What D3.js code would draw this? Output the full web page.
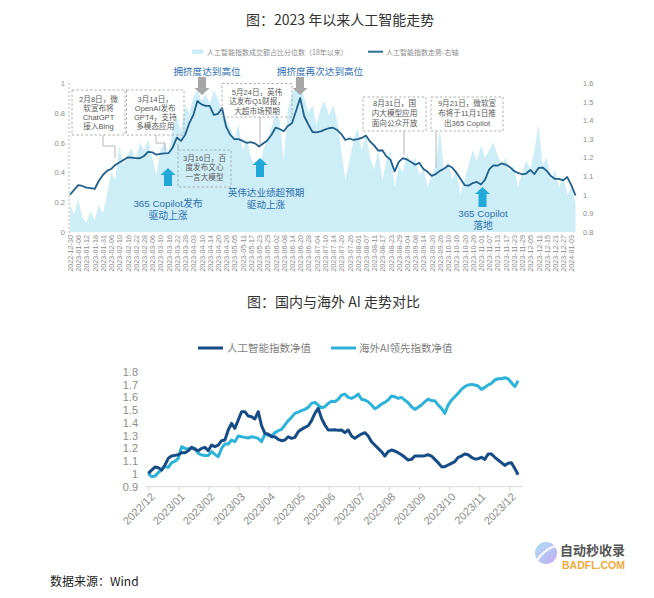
<!DOCTYPE html>
<html><head><meta charset="utf-8">
<script src="https://cdn.jsdelivr.net/npm/d3@7"></script>
<style>
body{margin:0;background:#fff;}
svg{display:block;font-family:"Noto Sans CJK SC","Noto Sans",sans-serif;}
</style></head><body>
<svg id="c" width="654" height="598"></svg>
<script>
// ---------- DATA ----------
const topDates = ["2022-12-30","2023-01-06","2023-01-12","2023-01-18","2023-01-31","2023-02-06","2023-02-10","2023-02-16","2023-02-22","2023-02-28","2023-03-06","2023-03-10","2023-03-16","2023-03-22","2023-03-28","2023-04-03","2023-04-10","2023-04-14","2023-04-20","2023-04-26","2023-05-05","2023-05-11","2023-05-17","2023-05-23","2023-05-29","2023-06-02","2023-06-08","2023-06-14","2023-06-20","2023-06-28","2023-07-04","2023-07-10","2023-07-14","2023-07-20","2023-07-26","2023-08-01","2023-08-07","2023-08-11","2023-08-17","2023-08-23","2023-08-29","2023-09-04","2023-09-08","2023-09-14","2023-09-20","2023-09-26","2023-10-10","2023-10-16","2023-10-20","2023-10-26","2023-11-01","2023-11-07","2023-11-13","2023-11-17","2023-11-23","2023-11-29","2023-12-05","2023-12-11","2023-12-15","2023-12-21","2023-12-27","2024-01-03"];
// one value every 2 trading days
const turnoverPct = [0.18,0.12,0.22,0.10,0.06,0.14,0.08,0.18,0.12,0.25,
 0.40,0.35,0.58,0.45,0.52,0.56,0.48,0.60,0.55,0.62,
 0.50,0.38,0.55,0.60,0.52,0.70,0.78,0.68,0.85,0.80,
 0.90,0.96,0.88,0.93,0.86,0.95,0.90,0.80,0.75,0.70,
 0.62,0.72,0.55,0.63,0.50,0.45,0.40,0.55,0.62,0.70,
 0.80,0.75,0.48,0.82,0.93,0.97,0.99,0.90,0.80,0.85,
 0.72,0.83,0.88,0.78,0.85,0.75,0.55,0.35,0.48,0.62,
 0.70,0.55,0.66,0.50,0.42,0.55,0.35,0.48,0.55,0.30,
 0.45,0.40,0.52,0.45,0.50,0.38,0.42,0.30,0.38,0.45,
 0.70,0.40,0.48,0.35,0.42,0.25,0.35,0.45,0.55,0.48,
 0.58,0.50,0.55,0.60,0.52,0.45,0.50,0.40,0.45,0.30,
 0.40,0.48,0.42,0.55,0.72,0.45,0.50,0.35,0.42,0.30,
 0.38,0.25,0.30,0.20];
const aiIndexTop = [1.000,1.026,1.052,1.047,1.038,1.036,1.031,1.074,1.106,1.128,
 1.138,1.160,1.173,1.187,1.200,1.199,1.197,1.196,1.208,1.230,
 1.228,1.215,1.219,1.222,1.224,1.254,1.307,1.289,1.321,1.383,
 1.427,1.503,1.485,1.477,1.477,1.429,1.434,1.466,1.364,1.321,
 1.299,1.299,1.289,1.278,1.283,1.276,1.259,1.275,1.291,1.321,
 1.360,1.353,1.341,1.369,1.384,1.450,1.520,1.420,1.377,1.337,
 1.335,1.340,1.350,1.357,1.360,1.348,1.326,1.294,1.302,1.294,
 1.299,1.305,1.318,1.286,1.265,1.237,1.239,1.206,1.187,1.125,
 1.176,1.197,1.189,1.176,1.161,1.171,1.138,1.123,1.101,1.111,
 1.128,1.140,1.157,1.146,1.119,1.086,1.052,1.049,1.063,1.069,
 1.055,1.081,1.136,1.158,1.156,1.168,1.162,1.149,1.128,1.117,
 1.110,1.114,1.133,1.111,1.144,1.146,1.128,1.101,1.085,1.085,
 1.077,1.095,1.050,0.996];
const leftTicks = [0,0.2,0.4,0.6,0.8,1];
const rightTicks = [0.8,0.9,1.0,1.1,1.2,1.3,1.4,1.5,1.6];

const monthLabels = ["2022/12","2023/01","2023/02","2023/03","2023/04","2023/05","2023/06","2023/07","2023/08","2023/09","2023/10","2023/11","2023/12"];
const aiNav = [1.004,1.030,1.054,1.049,1.030,1.070,1.122,1.140,1.145,1.150,
 1.166,1.166,1.182,1.208,1.192,1.182,1.200,1.208,1.182,1.226,
 1.213,1.226,1.260,1.265,1.344,1.396,1.357,1.422,1.487,1.487,
 1.453,1.448,1.430,1.487,1.377,1.317,1.312,1.291,1.291,1.270,
 1.260,1.265,1.291,1.278,1.286,1.330,1.349,1.364,1.377,1.417,
 1.474,1.513,1.435,1.383,1.344,1.344,1.346,1.341,1.344,1.323,
 1.344,1.297,1.278,1.297,1.312,1.323,1.297,1.252,1.226,1.200,
 1.174,1.140,1.174,1.187,1.179,1.166,1.150,1.130,1.109,1.114,
 1.140,1.140,1.140,1.143,1.150,1.140,1.114,1.088,1.057,1.057,
 1.070,1.083,1.096,1.130,1.140,1.156,1.150,1.130,1.117,1.119,
 1.130,1.114,1.156,1.156,1.130,1.109,1.088,1.067,1.083,1.088,
 1.043,0.993];
const overseasNav = [1.004,0.978,0.983,1.010,1.036,1.057,1.051,1.088,1.098,1.122,
 1.213,1.200,1.197,1.200,1.200,1.161,1.148,1.145,1.145,1.174,
 1.153,1.135,1.200,1.234,1.234,1.265,1.252,1.297,1.291,1.286,
 1.281,1.291,1.286,1.278,1.252,1.312,1.302,1.297,1.323,1.338,
 1.349,1.383,1.417,1.443,1.474,1.484,1.495,1.505,1.521,1.552,
 1.560,1.539,1.518,1.526,1.552,1.568,1.565,1.584,1.617,1.625,
 1.599,1.591,1.604,1.625,1.584,1.578,1.565,1.539,1.510,1.526,
 1.547,1.560,1.578,1.610,1.604,1.591,1.599,1.578,1.557,1.526,
 1.505,1.521,1.539,1.565,1.586,1.573,1.573,1.539,1.513,1.474,
 1.539,1.578,1.604,1.630,1.662,1.683,1.696,1.701,1.696,1.688,
 1.662,1.677,1.696,1.709,1.735,1.745,1.745,1.753,1.745,1.714,
 1.683,1.730];
const bottomYTicks = [0.9,1.0,1.1,1.2,1.3,1.4,1.5,1.6,1.7,1.8];

// ---------- DRAW ----------
const svg = d3.select("#c");
const fmt = d3.format("~g");
const lf = "'Liberation Sans','Noto Sans CJK SC',sans-serif";

// Top title
svg.append("text").attr("x",246).attr("y",25).attr("font-size",14).attr("fill","#333").text("图：2023 年以来人工智能走势");

// Top legend
svg.append("rect").attr("x",192).attr("y",49.5).attr("width",11).attr("height",4.5).attr("fill","#cdeef6");
svg.append("text").attr("x",207).attr("y",54.5).attr("font-size",7).attr("fill","#8c8c8c").text("人工智能指数成交额占比分位数（18年以来）");
svg.append("line").attr("x1",368).attr("x2",383).attr("y1",51.7).attr("y2",51.7).attr("stroke","#2e6f95").attr("stroke-width",2);
svg.append("text").attr("x",386).attr("y",54.5).attr("font-size",7).attr("fill","#8c8c8c").text("人工智能指数走势-右轴");

const STEP = 2; // trading days per data point
const xT = d3.scaleLinear().domain([0, 244]).range([70, 571.4]);
const yL = d3.scaleLinear().domain([0, 1]).range([232, 83]);
const yR = d3.scaleLinear().domain([0.8, 1.6]).range([232, 83]);

svg.append("path").datum(turnoverPct)
  .attr("d", d3.area().x((d,i)=>xT(i*STEP)).y0(yL(0)).y1(d=>yL(d)))
  .attr("fill","#cdeef6");

// left dashed axis
svg.append("line").attr("x1",69).attr("x2",69).attr("y1",83).attr("y2",236)
  .attr("stroke","#a6a6a6").attr("stroke-width",0.8).attr("stroke-dasharray","2,2");

const gl = svg.append("g").attr("transform","translate(69,0)")
  .call(d3.axisLeft(yL).tickValues(leftTicks).tickFormat(fmt).tickSize(0).tickPadding(4));
gl.select(".domain").remove();
gl.selectAll("text").attr("font-size",7.5).attr("fill","#8c8c8c").attr("font-family",lf);

const gr = svg.append("g").attr("transform","translate(578,0)")
  .call(d3.axisRight(yR).tickValues(rightTicks).tickFormat(fmt).tickSize(0).tickPadding(5));
gr.select(".domain").remove();
gr.selectAll("text").attr("font-size",7.5).attr("fill","#8c8c8c").attr("font-family",lf);

const gx = svg.append("g").attr("transform","translate(0,234)")
  .call(d3.axisBottom(xT).tickValues(topDates.map((d,i)=>i*4)).tickFormat((d,i)=>topDates[i]).tickSize(0));
gx.select(".domain").remove();
gx.selectAll("text").attr("transform","rotate(-90)").attr("text-anchor","end")
  .attr("x",-1).attr("y",0).attr("dy","0.35em")
  .attr("font-size",7.2).attr("fill","#8c8c8c").attr("font-family",lf);

// index line
svg.append("path").datum(aiIndexTop)
  .attr("d", d3.line().x((d,i)=>xT(i*STEP)).y(d=>yR(d)))
  .attr("fill","none").attr("stroke","#21608c").attr("stroke-width",1.8).attr("stroke-linejoin","round");

// annotations
const ann = svg.append("g").attr("font-family",lf);
function box(x0,y0,x1,y1,lines,base,gap){
  ann.append("rect").attr("x",x0).attr("y",y0).attr("width",x1-x0).attr("height",y1-y0)
    .attr("fill","none").attr("stroke","#a0a0a0").attr("stroke-width",0.8).attr("stroke-dasharray","2.5,2");
  lines.forEach((t,i)=>ann.append("text").attr("x",(x0+x1)/2).attr("y",base+i*gap)
    .attr("text-anchor","middle").attr("font-size",7.6).attr("fill","#595959").text(t));
}
function leader(pts){
  ann.append("polyline").attr("points",pts.map(p=>p.join(",")).join(" "))
    .attr("fill","none").attr("stroke","#a6a6a6").attr("stroke-width",0.8);
}
function arrowDown(cx,top,tip,col){
  ann.append("path").attr("d",`M${cx-4},${top}L${cx+4},${top}L${cx+4},${tip-7}L${cx+7.5},${tip-7}L${cx},${tip}L${cx-7.5},${tip-7}L${cx-4},${tip-7}Z`).attr("fill",col);
}
function arrowUp(cx,tip,bottom,col){
  ann.append("path").attr("d",`M${cx-4},${bottom}L${cx+4},${bottom}L${cx+4},${tip+7}L${cx+7.5},${tip+7}L${cx},${tip}L${cx-7.5},${tip+7}L${cx-4},${tip+7}Z`).attr("fill",col);
}
function blueText(cx,base,lines,fs){
  lines.forEach((t,i)=>ann.append("text").attr("x",cx).attr("y",base+i*11.5).attr("text-anchor","middle")
    .attr("font-size",fs).attr("fill","#2e6fb0").text(t));
}
leader([[103,135],[103,146],[115,146],[115,158]]);
leader([[156,135],[156,143],[165,143],[165,151]]);
leader([[178,150],[178,144]]);
leader([[260,117],[260,145]]);
leader([[404,131],[404,155]]);
leader([[436,131],[436,168]]);
box(72,90,125,135,["2月8日，微","软宣布将","ChatGPT","接入Bing"],101.8,9.1);
box(126.5,90,184,135,["3月14日，","OpenAI发布","GPT4，支持","多模态应用"],101.8,9.1);
box(178,150,231,187,["3月16日，百","度发布文心","一言大模型"],161,9.3);
box(222,83.5,292,117,["5月24日，英伟","达发布Q1财报，","大超市场预期"],94.5,9.8);
box(363,97,426,131,["8月31日，国","内大模型应用","面向公众开放"],106.3,9.6);
box(431,97,503,131,["9月21日，微软宣","布将于11月1日推","出365 Copilot"],106.3,9.6);

arrowDown(202,77,95,"#a6a6a6");
arrowDown(300,77,95,"#a6a6a6");
arrowUp(168,168,186,"#22a9d9");
arrowUp(260,158,177,"#22a9d9");
arrowUp(482.5,187,207,"#22a9d9");

blueText(207,74.5,["拥挤度达到高位"],9.6);
blueText(320,74.5,["拥挤度再次达到高位"],9.6);
blueText(168,207,["365 Copilot发布","驱动上涨"],9.8);
blueText(266,196,["英伟达业绩超预期","驱动上涨"],9.6);
blueText(483,217,["365 Copilot","落地"],9.8);

// ---------- Bottom chart ----------
svg.append("text").attr("x",247).attr("y",307).attr("font-size",14).attr("fill","#333").text("图：国内与海外 AI 走势对比");

const colDark = "#154c86", colLight = "#2db3da";
svg.append("line").attr("x1",198).attr("x2",223).attr("y1",348).attr("y2",348).attr("stroke",colDark).attr("stroke-width",3);
svg.append("text").attr("x",227).attr("y",352).attr("font-size",10.5).attr("fill","#7f7f7f").text("人工智能指数净值");
svg.append("line").attr("x1",331).attr("x2",356).attr("y1",348).attr("y2",348).attr("stroke",colLight).attr("stroke-width",3);
svg.append("text").attr("x",359).attr("y",352).attr("font-size",10.5).attr("fill","#7f7f7f").text("海外AI领先指数净值");

const SPM = 9.03; // samples per month
const xB = d3.scaleLinear().domain([0, 12]).range([148.3, 509.3]);
const yB = d3.scaleLinear().domain([0.9, 1.8]).range([486.7, 371.7]);

svg.append("line").attr("x1",145).attr("x2",523).attr("y1",yB(0.9)).attr("y2",yB(0.9)).attr("stroke","#d9d9d9").attr("stroke-width",1);

const gyb = svg.append("g").attr("transform","translate(141,0)")
  .call(d3.axisLeft(yB).tickValues(bottomYTicks).tickFormat(fmt).tickSize(0).tickPadding(3));
gyb.select(".domain").remove();
gyb.selectAll("text").attr("font-size",11).attr("fill","#8c8c8c").attr("font-family",lf);

const gxb = svg.append("g").attr("transform",`translate(0,${yB(0.9)})`)
  .call(d3.axisBottom(xB).tickValues(d3.range(13)).tickFormat((d,i)=>monthLabels[i]).tickSize(4));
gxb.select(".domain").remove();
gxb.selectAll("line").attr("stroke","#d9d9d9");
gxb.selectAll("text").attr("text-anchor","end").attr("transform","translate(4,8) rotate(-45)")
  .attr("y",0).attr("x",0).attr("dy","0.35em")
  .attr("font-size",11).attr("fill","#8c8c8c").attr("font-family",lf);

const lineB = d3.line().x((d,i)=>xB(i/SPM)).y(d=>yB(d)).curve(d3.curveLinear);
svg.append("path").datum(overseasNav).attr("d",lineB).attr("fill","none").attr("stroke",colLight).attr("stroke-width",3).attr("stroke-linejoin","round");
svg.append("path").datum(aiNav).attr("d",lineB).attr("fill","none").attr("stroke",colDark).attr("stroke-width",3).attr("stroke-linejoin","round");

// source
svg.append("text").attr("x",50).attr("y",586).attr("font-size",12).attr("fill","#222").text("数据来源：Wind");

// watermark
const defs = svg.append("defs");
const lg = defs.append("linearGradient").attr("id","wm").attr("x1","0").attr("y1","0").attr("x2","1").attr("y2","1");
lg.append("stop").attr("offset","0").attr("stop-color","#9fd8f0");
lg.append("stop").attr("offset","1").attr("stop-color","#b79cf0");
svg.append("circle").attr("cx",546).attr("cy",553).attr("r",11).attr("fill","url(#wm)").attr("opacity",0.85);
svg.append("path").attr("d","M537,560 Q546,548 556,546").attr("stroke","#fff").attr("stroke-width",2.5).attr("fill","none").attr("opacity",0.8);
svg.append("text").attr("x",560).attr("y",555).attr("font-size",13).attr("font-weight","bold").attr("fill","#555").attr("font-family",lf).text("自动秒收录");
svg.append("text").attr("x",562).attr("y",568.5).attr("font-size",10.5).attr("font-weight","bold").attr("fill","#f2a93b").attr("font-family",lf).text("BADFL.COM");
</script>
</body></html>
